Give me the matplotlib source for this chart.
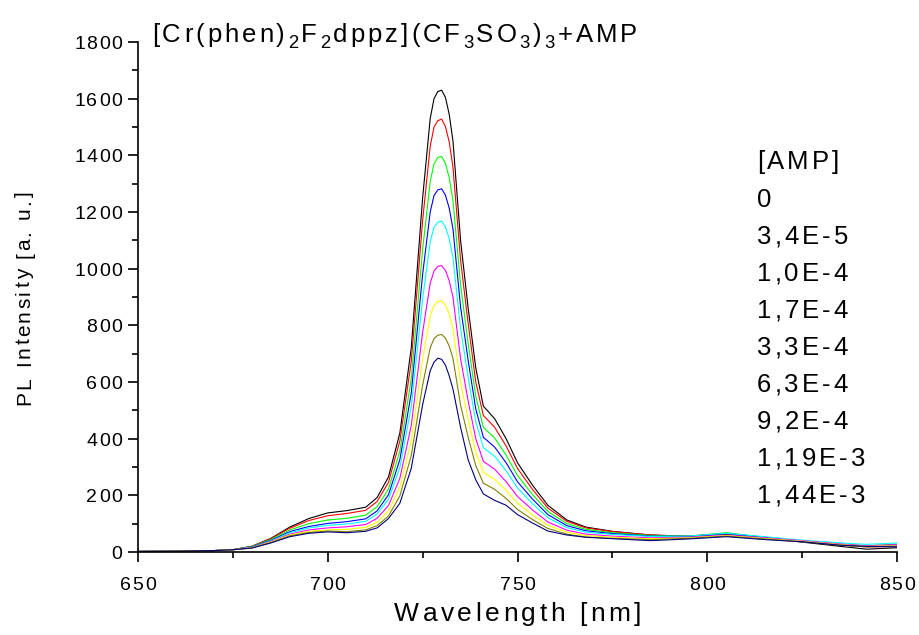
import matplotlib
matplotlib.use('Agg')
import matplotlib.pyplot as plt
from matplotlib import font_manager
from matplotlib.ft2font import FT2Font
from matplotlib.ticker import MultipleLocator
from matplotlib.transforms import IdentityTransform

plt.rcParams['font.family'] = ['Liberation Sans', 'DejaVu Sans']

# wavelength grid (nm), shared by all spectra
wavelength = [650, 660, 670, 675, 680, 685, 690, 695, 700, 705, 710, 713, 716, 719,
              722, 725, 727, 728, 729, 730, 731, 732, 733, 735, 737, 739, 741, 744,
              747, 750, 754, 758, 763, 768, 775, 785, 795, 805, 815, 825, 835, 842, 850]

# PL intensity for each AMP concentration
pl_0 = [2, 3, 5, 8, 20, 48, 88, 118, 138, 146, 158, 192, 265, 420,
        720, 1250, 1530, 1600, 1625, 1630, 1605, 1545, 1450, 1100, 860, 650, 515, 470,
        400, 315, 235, 165, 113, 88, 73, 60, 55, 62, 50, 35, 20, 10, 15]
pl_34e5 = [2, 3, 5, 8, 20, 47, 84, 111, 128, 136, 147, 178, 246, 392,
           672, 1170, 1432, 1500, 1522, 1528, 1502, 1448, 1358, 1030, 806, 600, 482, 440,
           374, 295, 220, 155, 108, 85, 72, 60, 56, 66, 52, 38, 25, 18, 20]
pl_10e4 = [2, 3, 5, 8, 19, 44, 78, 100, 113, 119, 130, 160, 222, 356,
           610, 1068, 1308, 1370, 1392, 1396, 1372, 1322, 1240, 942, 736, 550, 440, 402,
           342, 270, 202, 143, 100, 80, 68, 58, 56, 68, 52, 38, 28, 22, 28]
pl_17e4 = [2, 3, 5, 8, 18, 41, 72, 90, 101, 107, 117, 145, 202, 326,
           560, 980, 1200, 1258, 1278, 1282, 1260, 1214, 1140, 865, 676, 505, 405, 370,
           315, 248, 186, 132, 93, 75, 65, 56, 55, 65, 52, 38, 26, 20, 24]
pl_33e4 = [2, 3, 5, 8, 17, 39, 68, 85, 94, 99, 108, 134, 186, 298,
           512, 893, 1095, 1146, 1164, 1168, 1148, 1106, 1038, 788, 616, 460, 369, 337,
           287, 226, 170, 121, 86, 70, 62, 55, 56, 66, 54, 42, 32, 27, 32]
pl_63e4 = [2, 3, 5, 8, 16, 37, 63, 78, 85, 89, 97, 119, 164, 260,
           446, 775, 949, 992, 1008, 1011, 994, 958, 899, 682, 533, 400, 320, 292,
           248, 196, 148, 106, 77, 63, 56, 50, 52, 60, 50, 40, 28, 22, 26]
pl_92e4 = [2, 3, 5, 8, 15, 35, 60, 73, 78, 80, 87, 105, 145, 228,
           392, 680, 833, 870, 884, 887, 872, 840, 789, 598, 468, 352, 281, 256,
           218, 172, 130, 94, 70, 58, 52, 47, 50, 58, 48, 38, 26, 20, 22]
pl_119e3 = [2, 3, 5, 8, 14, 33, 57, 69, 74, 72, 78, 93, 127, 198,
            340, 589, 721, 753, 765, 768, 755, 727, 683, 518, 405, 305, 243, 221,
            189, 150, 114, 83, 63, 53, 48, 44, 48, 56, 46, 36, 24, 18, 20]
pl_144e3 = [2, 3, 5, 8, 14, 32, 54, 66, 71, 68, 73, 85, 118, 172,
            295, 520, 640, 670, 684, 680, 660, 622, 575, 440, 325, 255, 205, 182,
            165, 132, 102, 74, 60, 52, 47, 40, 46, 54, 44, 36, 24, 20, 18]

spectra = [pl_0, pl_34e5, pl_10e4, pl_17e4, pl_33e4, pl_63e4, pl_92e4, pl_119e3, pl_144e3]
colors = ['#000000', '#ff0000', '#00ff00', '#0000ff', '#00ffff',
          '#ff00ff', '#ffff00', '#808000', '#000080']
conc_labels = ['0', '3,4E-5', '1,0E-4', '1,7E-4', '3,3E-4',
               '6,3E-4', '9,2E-4', '1,19E-3', '1,44E-3']
x_ticks = [650, 700, 750, 800, 850]
y_ticks = [0, 200, 400, 600, 800, 1000, 1200, 1400, 1600, 1800]

W, H, DPI = 920, 635, 100
fig = plt.figure(figsize=(W / DPI, H / DPI), dpi=DPI)
ax = fig.add_axes([138 / W, 83 / H, 759 / W, 510 / H])

for y, c in zip(spectra, colors):
    ax.plot(wavelength, y, color=c, lw=0.8)

ax.set_xlim(650, 850)
ax.set_ylim(0, 1800)
ax.xaxis.set_major_locator(MultipleLocator(50))
ax.xaxis.set_minor_locator(MultipleLocator(25))
ax.yaxis.set_major_locator(MultipleLocator(200))
ax.yaxis.set_minor_locator(MultipleLocator(100))
ax.tick_params(which='both', direction='out', width=1.2,
               labelbottom=False, labelleft=False)
ax.tick_params(which='major', length=7)
ax.tick_params(which='minor', length=4.5)
ax.spines['top'].set_visible(False)
ax.spines['right'].set_visible(False)
ax.spines['left'].set_linewidth(1.2)
ax.spines['bottom'].set_linewidth(1.2)

# Origin exports its text with extra letter spacing, so text is laid out
# glyph by glyph (pixel coords, origin bottom-left)
font_path = font_manager.findfont(font_manager.FontProperties(family='Liberation Sans'))
_fonts = {}


def advance(ch, size):
    if size not in _fonts:
        ft = FT2Font(font_path)
        ft.set_size(size, DPI)
        _fonts[size] = ft
    return _fonts[size].load_char(ord(ch)).linearHoriAdvance / 65536.0


def text_width(pieces, size, track):
    if isinstance(pieces, str):
        pieces = [(pieces, False)]
    w = 0
    for txt, sub in pieces:
        s = size * 0.72 if sub else size
        for ch in txt:
            w += advance(ch, s) + track
    return w - track


def tracked(x, y, pieces, size, track, vertical=False):
    if isinstance(pieces, str):
        pieces = [(pieces, False)]
    pos = 0
    for txt, sub in pieces:
        s = size * 0.72 if sub else size
        drop = 0.24 * size * DPI / 72 if sub else 0
        for ch in txt:
            if vertical:
                fig.text(x + drop, y + pos, ch, fontsize=s, rotation=90,
                         rotation_mode='anchor', ha='left', va='baseline',
                         transform=IdentityTransform())
            else:
                fig.text(x + pos, y - drop, ch, fontsize=s, ha='left',
                         va='baseline', transform=IdentityTransform())
            pos += advance(ch, s) + track


to_px = ax.transData

# tick labels
tick_size, tick_track = 14, 1.5
digit_h = 0.716 * tick_size * DPI / 72
for v in y_ticks:
    py = to_px.transform((650, v))[1]
    lab = str(v)
    tracked(122 - text_width(lab, tick_size, tick_track), py - digit_h / 2,
            lab, tick_size, tick_track)
for v in x_ticks:
    px = to_px.transform((v, 0))[0]
    lab = str(v)
    tracked(px - text_width(lab, tick_size, tick_track) / 2, H - 590,
            lab, tick_size, tick_track)

# axis titles
xl = 'Wavelength [nm]'
tracked(517.5 - text_width(xl, 19, 3.5) / 2, H - 621, xl, 19, 3.5)
yl = 'PL Intensity [a. u.]'
tracked(30, H - 298 - text_width(yl, 15, 2.5) / 2, yl, 15, 2.5, vertical=True)

# chart title
title = [('[Cr(phen)', False), ('2', True), ('F', False), ('2', True),
         ('dppz](CF', False), ('3', True), ('SO', False), ('3', True),
         (')', False), ('3', True), ('+AMP', False)]
tracked(152, H - 42, title, 18.5, 3)

# concentration list
leg_size, leg_track = 18.5, 3
cap = 0.716 * leg_size * DPI / 72
tracked(757, H - 160 - cap / 2, '[AMP]', leg_size, leg_track)
for i, lab in enumerate(conc_labels):
    tracked(757, H - (198 + i * 37) - cap / 2, lab, leg_size, leg_track)

fig.savefig('out.png', dpi=DPI)
